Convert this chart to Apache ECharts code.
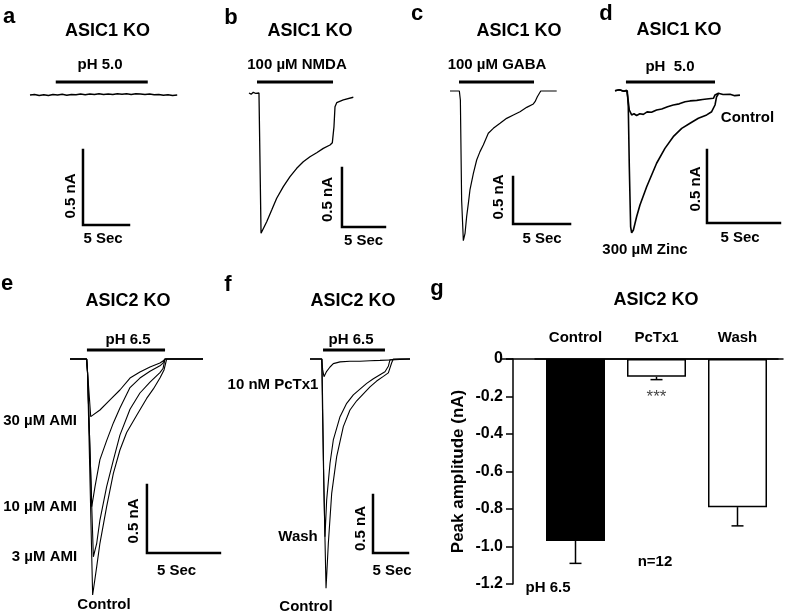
<!DOCTYPE html>
<html><head><meta charset="utf-8">
<script src="https://cdn.jsdelivr.net/npm/echarts@6/dist/echarts.min.js"></script>
<style>html,body{margin:0;padding:0;background:#fff}#c{width:787px;height:614px}</style>
</head><body><div id="c"></div>
<script>
// ---------- DATA (time in s, current in nA) ----------
// Panel a: ASIC1 KO, pH 5.0 (no response)
const traceA = [[0,0],[0.5,0.004],[1,-0.003],[1.5,0.002],[2,-0.004],[2.5,0.003],[3,0],[3.5,0.005],[4,-0.002],[4.5,0.004],[5,0.001],[5.5,0.006],[6,0.002],[6.5,0.007],[7,0.003],[7.5,0.008],[8,0.004],[8.5,0.007],[9,0.003],[9.5,0.008],[10,0.005],[10.5,0.009],[11,0.004],[11.5,0.008],[12,0.006],[12.5,0.003],[13,0.006],[13.5,0.001],[14,0.004],[14.5,-0.002],[15,0.002],[15.5,-0.003],[16,0]];
// Panel b: 100 µM NMDA
const traceB = [[0,0],[0.25,-0.01],[0.5,0.006],[0.8,-0.004],[1.16,0],[1.40,-1.189],[2.06,-1.091],[2.64,-0.992],[3.22,-0.892],[3.99,-0.794],[4.77,-0.709],[5.55,-0.638],[6.31,-0.582],[7.09,-0.540],[7.87,-0.506],[8.64,-0.469],[9.42,-0.441],[9.69,-0.421],[9.88,-0.286],[10.0,-0.116],[10.20,-0.082],[10.97,-0.059],[12.13,-0.036]];
// Panel c: 100 µM GABA
const traceC = [[0,0],[0.82,0],[0.91,-0.096],[1.02,-1.160],[1.17,-1.592],[1.32,-1.514],[1.46,-1.337],[1.61,-1.195],[1.75,-1.053],[2.05,-0.876],[2.34,-0.734],[2.63,-0.645],[2.92,-0.574],[3.36,-0.450],[3.80,-0.397],[4.39,-0.344],[4.97,-0.291],[5.56,-0.255],[6.14,-0.220],[6.73,-0.174],[7.31,-0.138],[7.46,-0.114],[7.66,-0.061],[7.96,0],[9.36,0]];
// Panel d: pH 5.0 control vs 300 µM zinc
const traceDControl = [[0,0],[0.3,0.006],[0.6,-0.004],[0.80,0.003],[0.87,-0.041],[0.98,-0.132],[1.14,-0.166],[1.3,-0.158],[1.48,-0.17],[1.7,-0.158],[1.94,-0.162],[2.2,-0.145],[2.5,-0.148],[2.85,-0.132],[3.2,-0.125],[3.6,-0.11],[3.99,-0.098],[4.4,-0.09],[4.8,-0.076],[5.14,-0.07],[5.6,-0.066],[6.0,-0.06],[6.28,-0.057],[6.74,-0.052],[6.85,-0.029],[7.08,-0.018],[7.4,-0.026],[7.88,-0.025],[8.2,-0.034],[8.56,-0.03]];
const traceDZinc = [[0,0],[0.3,0.006],[0.6,-0.004],[0.84,0],[0.91,-0.110],[0.98,-0.521],[1.07,-0.932],[1.14,-0.973],[1.26,-0.954],[1.48,-0.863],[1.71,-0.783],[2.17,-0.658],[2.85,-0.497],[3.42,-0.395],[3.99,-0.315],[4.57,-0.258],[5.14,-0.223],[5.71,-0.189],[6.28,-0.166],[6.62,-0.144],[6.85,-0.098],[6.96,-0.041],[7.08,-0.023]];
// Panel e: ASIC2 KO, pH 6.5 with amiloride
const traceE30 = [[0,0],[1.14,0],[1.18,-0.01],[1.42,-0.424],[1.49,-0.434],[2.05,-0.375],[2.74,-0.30],[3.42,-0.228],[4.11,-0.14],[4.79,-0.096],[5.48,-0.059],[6.16,-0.03],[6.37,-0.015],[6.51,0],[9.11,0]];
const traceE10 = [[0,0],[1.14,0],[1.2,-0.1],[1.49,-1.086],[1.71,-0.94],[2.05,-0.74],[2.51,-0.60],[2.97,-0.47],[3.42,-0.36],[4.11,-0.21],[4.79,-0.14],[5.48,-0.09],[6.16,-0.05],[6.37,-0.03],[6.51,0],[9.11,0]];
const traceE3 = [[0,0],[1.14,0],[1.2,-0.1],[1.60,-1.454],[1.83,-1.355],[2.05,-1.184],[2.51,-0.939],[2.97,-0.743],[3.42,-0.56],[4.11,-0.37],[4.79,-0.25],[5.48,-0.17],[6.16,-0.10],[6.37,-0.07],[6.51,0],[9.11,0]];
const traceEControl = [[0,0],[1.14,0],[1.2,-0.1],[1.55,-1.735],[1.83,-1.527],[2.05,-1.355],[2.51,-1.086],[2.97,-0.841],[3.42,-0.669],[3.88,-0.54],[4.59,-0.41],[5.25,-0.29],[5.71,-0.22],[6.16,-0.14],[6.44,-0.08],[6.62,0],[9.11,0]];
// Panel f: ASIC2 KO, pH 6.5 with PcTx1
const traceFPcTx1 = [[0,0],[1.67,0],[1.81,-0.092],[2.0,-0.152],[2.38,-0.106],[2.86,-0.069],[3.33,-0.040],[4.29,-0.025],[5.71,-0.02],[7.14,-0.02],[8.57,-0.015],[10.0,-0.012],[11.43,-0.008],[12.86,-0.004],[14.29,0]];
const traceFWash = [[0,0],[1.67,0],[1.90,-0.871],[2.14,-1.532],[2.38,-1.216],[2.86,-0.899],[3.33,-0.698],[4.29,-0.497],[5.24,-0.382],[6.19,-0.31],[7.14,-0.26],[8.10,-0.21],[9.05,-0.17],[10.0,-0.135],[10.71,-0.11],[11.19,-0.063],[11.43,-0.006],[12.86,0],[14.29,0]];
const traceFControl = [[0,0],[1.71,0],[2.0,-1.158],[2.29,-1.977],[2.62,-1.589],[3.10,-1.158],[3.81,-0.842],[4.76,-0.583],[5.71,-0.440],[6.67,-0.36],[7.62,-0.30],[8.57,-0.24],[9.52,-0.19],[10.48,-0.15],[11.19,-0.12],[11.67,-0.032],[11.90,0],[14.29,0]];
// Stimulus bars [start s, end s, level nA]
const stimA = [2.8, 12.8, 0.087];
const stimB = [0.93, 9.77, 0.093];
const stimC = [0.79, 7.37, 0.096];
const stimD = [0.75, 6.85, 0.060];
const stimE = [1.16, 6.51, 0.066];
const stimF = [1.86, 10.71, 0.078];
// Scale bar corners [s, nA]; bars are 5 s and 0.5 nA
const scaleSec = 5, scaleNA = 0.5;
const scaleA = [5.76, -0.867];
const scaleB = [10.81, -1.136];
const scaleC = [5.53, -1.415];
const scaleD = [6.30, -0.906];
const scaleE = [5.27, -1.426];
const scaleF = [9.0, -1.672];
// Panel g: peak amplitude bar chart
const categories = ['Control', 'PcTx1', 'Wash'];
const peakMeans = [-0.97, -0.095, -0.79];
const peakSEM = [0.12, 0.015, 0.10];
const sigMarks = ['', '***', ''];
const yTickLabels = ['0', '-0.2', '-0.4', '-0.6', '-0.8', '-1.0', '-1.2'];

// ---------- LAYOUT ----------
const FF = '"Liberation Sans", Arial, Helvetica, sans-serif';
const panels = [
  {left:0,   top:60,  width:200, height:200, x0:30,  y0:95,   pxPerSec:9.2,  pxPerNA:150, traces:[traceA], lw:1.5, stim:stimA, scale:scaleA},
  {left:200, top:60,  width:200, height:200, x0:249, y0:93,   pxPerSec:8.6,  pxPerNA:118, traces:[traceB], lw:1.3, stim:stimB, scale:scaleB},
  {left:400, top:60,  width:190, height:200, x0:450, y0:91,   pxPerSec:11.4, pxPerNA:94,  traces:[traceC], lw:1.2, stim:stimC, scale:scaleC},
  {left:590, top:60,  width:197, height:200, x0:615, y0:90.7, pxPerSec:14.6, pxPerNA:146, traces:[traceDControl, traceDZinc], lw:1.6, stim:stimD, scale:scaleD},
  {left:0,   top:330, width:230, height:284, x0:70,  y0:359,  pxPerSec:14.6, pxPerNA:136, traces:[traceE30, traceE10, traceE3, traceEControl], lw:1.1, stim:stimE, scale:scaleE},
  {left:200, top:330, width:220, height:284, x0:310, y0:359,  pxPerSec:7.0,  pxPerNA:116, traces:[traceFPcTx1, traceFWash, traceFControl], lw:1.1, stim:stimF, scale:scaleF}
];

const grids = [], xAxes = [], yAxes = [], series = [];
panels.forEach((p, i) => {
  grids.push({left:p.left, top:p.top, width:p.width, height:p.height});
  xAxes.push({gridIndex:i, type:'value', show:false,
    min:(p.left - p.x0)/p.pxPerSec, max:(p.left + p.width - p.x0)/p.pxPerSec});
  yAxes.push({gridIndex:i, type:'value', show:false,
    max:(p.y0 - p.top)/p.pxPerNA, min:(p.y0 - p.top - p.height)/p.pxPerNA});
  p.traces.forEach(tr => series.push({type:'line', xAxisIndex:i, yAxisIndex:i, data:tr,
    symbol:'none', silent:true, lineStyle:{color:'#000', width:p.lw}, z:3}));
  series.push({type:'line', xAxisIndex:i, yAxisIndex:i, symbol:'none', silent:true,
    data:[[p.stim[0], p.stim[2]], [p.stim[1], p.stim[2]]], lineStyle:{color:'#000', width:3}});
  const c = p.scale;
  series.push({type:'line', xAxisIndex:i, yAxisIndex:i, symbol:'none', silent:true,
    data:[[c[0], c[1] + scaleNA], [c[0], c[1]], [c[0] + scaleSec, c[1]]], lineStyle:{color:'#000', width:2.5, join:'miter', cap:'square'}});
});

// bar chart grid (index 6) and long zero-line grid (index 7)
const gi = panels.length;
grids.push({left:535, right:9, top:359, bottom:30});
grids.push({left:502, right:4, top:359, bottom:30});
xAxes.push({gridIndex:gi, type:'category', data:categories, position:'top',
  axisLine:{show:true, lineStyle:{color:'#000', width:1.5}}, axisTick:{show:false},
  axisLabel:{color:'#000', fontFamily:FF, fontWeight:'bold', fontSize:15, margin:14}});
xAxes.push({gridIndex:gi+1, type:'value', position:'top', min:0, max:1,
  axisLine:{show:true, onZero:false, lineStyle:{color:'#000', width:1.5}}, axisTick:{show:false},
  axisLabel:{show:false}, splitLine:{show:false}});
yAxes.push({gridIndex:gi, type:'value', min:-1.2, max:0, interval:0.2, offset:22,
  name:'Peak amplitude (nA)', nameLocation:'middle', nameGap:46,
  nameTextStyle:{color:'#000', fontFamily:FF, fontWeight:'bold', fontSize:17},
  axisLine:{show:true, lineStyle:{color:'#000', width:1.5}},
  axisTick:{show:true, length:7, lineStyle:{color:'#000', width:1.5}},
  splitLine:{show:false},
  axisLabel:{color:'#000', fontFamily:FF, fontWeight:'bold', fontSize:16, margin:10,
    formatter:v => yTickLabels[Math.round(-v / 0.2)]}});
yAxes.push({gridIndex:gi+1, type:'value', min:-1.2, max:0, show:false});

series.push({type:'bar', xAxisIndex:gi, yAxisIndex:gi, barWidth:59, silent:true, z:2,
  data:peakMeans.map((v, i) => ({value:v, itemStyle:{color:i === 0 ? '#000' : '#fff', borderColor:'#000', borderWidth:1.5}}))});
series.push({type:'custom', xAxisIndex:gi, yAxisIndex:gi, silent:true, z:4,
  data:peakMeans.map((v, i) => [i, v, v - peakSEM[i]]),
  encode:{x:0, y:[1, 2]},
  renderItem:(params, api) => {
    const x = api.value(0);
    const p1 = api.coord([x, api.value(1)]);
    const p2 = api.coord([x, api.value(2)]);
    const hw = 6;
    return {type:'group', children:[
      {type:'line', shape:{x1:p1[0], y1:p1[1], x2:p2[0], y2:p2[1]}, style:{stroke:'#000', lineWidth:1.5}},
      {type:'line', shape:{x1:p2[0]-hw, y1:p2[1], x2:p2[0]+hw, y2:p2[1]}, style:{stroke:'#000', lineWidth:1.5}}
    ]};
  }});
series.push({type:'scatter', xAxisIndex:gi, yAxisIndex:gi, symbolSize:0, silent:true,
  data:sigMarks.map((m, i) => m ? {value:[i, peakMeans[i] - peakSEM[i]], name:m} : null).filter(Boolean),
  label:{show:true, position:'bottom', distance:9, formatter:d => d.name, color:'#111', fontFamily:FF, fontSize:17}});

// ---------- TEXT ----------
function T(text, x, y, size, opts) {
  opts = opts || {};
  return {type:'text', x:x, y:y, rotation:opts.rot || 0, silent:true, z:10,
    style:{text:text, fill:'#000', font:(opts.normal ? '' : 'bold ') + size + 'px ' + FF,
      textAlign:'center', textVerticalAlign:'middle'}};
}
const R = Math.PI / 2;
const graphics = [
  T('a', 9, 17, 22), T('b', 231, 17.5, 22), T('c', 417, 14, 22), T('d', 606, 14, 22),
  T('e', 7, 283.5, 22), T('f', 228, 285, 22), T('g', 437, 289, 22),
  T('ASIC1 KO', 107.5, 31.5, 18), T('ASIC1 KO', 310, 31.5, 18), T('ASIC1 KO', 519, 31, 18), T('ASIC1 KO', 679, 30, 18),
  T('ASIC2 KO', 128, 301, 18), T('ASIC2 KO', 353, 301, 18), T('ASIC2 KO', 656, 300.5, 18),
  T('pH 5.0', 100, 65, 15), T('100 µM NMDA', 297, 65, 15), T('100 µM GABA', 497, 65, 15), T('pH  5.0', 670, 67, 15),
  T('pH 6.5', 128, 339.5, 15), T('pH 6.5', 351, 339.5, 15),
  T('0.5 nA', 71, 196, 15, {rot:R}), T('5 Sec', 103, 239, 15),
  T('0.5 nA', 327.5, 199.5, 15, {rot:R}), T('5 Sec', 363.5, 241, 15),
  T('0.5 nA', 499, 197, 15, {rot:R}), T('5 Sec', 542, 239, 15),
  T('0.5 nA', 696, 189, 15, {rot:R}), T('5 Sec', 740, 237.5, 15),
  T('Control', 747.5, 117.5, 15), T('300 µM Zinc', 645, 250, 15),
  T('30 µM AMI', 40, 420.5, 15), T('10 µM AMI', 40, 507, 15), T('3 µM AMI', 44.5, 557, 15), T('Control', 104, 605, 15),
  T('0.5 nA', 134, 521, 15, {rot:R}), T('5 Sec', 176.5, 571, 15),
  T('10 nM PcTx1', 273, 385, 15), T('Wash', 298, 536.5, 15), T('Control', 306, 606.5, 15),
  T('0.5 nA', 360.5, 528.5, 15, {rot:R}), T('5 Sec', 392, 571, 15),
  T('n=12', 655, 561.5, 15), T('pH 6.5', 548, 588, 15)
];

const chart = echarts.init(document.getElementById('c'), null, {renderer:'canvas'});
chart.setOption({
  animation:false,
  backgroundColor:'#fff',
  grid:grids, xAxis:xAxes, yAxis:yAxes, series:series, graphic:graphics
});
</script></body></html>
